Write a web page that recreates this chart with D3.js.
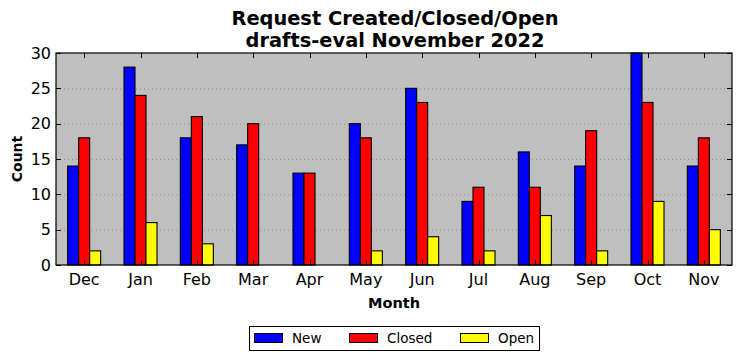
<!DOCTYPE html>
<html><head><meta charset="utf-8">
<script src="https://cdn.jsdelivr.net/npm/d3@7"></script>
<style>body{margin:0;background:#fff}svg{display:block}text{font-family:"DejaVu Sans",sans-serif}</style>
</head><body>
<script>
const months = ["Dec","Jan","Feb","Mar","Apr","May","Jun","Jul","Aug","Sep","Oct","Nov"];
const newVals = [14,28,18,17,13,20,25,9,16,14,30,14];
const closedVals = [18,24,21,20,13,18,23,11,11,19,23,18];
const openVals = [2,6,3,0,0,2,4,2,7,2,9,5];
const seriesNames = ["New","Closed","Open"];
const seriesColors = ["#0000ff","#ff0000","#ffff00"];
const yTicks = [0,5,10,15,20,25,30];

const W=742,H=361;
const m={l:56,r:732,t:53,b:265};
const svg=d3.select("body").append("svg").attr("width",W).attr("height",H);
const x=d3.scaleBand().domain(months).range([m.l,m.r]);
const y=d3.scaleLinear().domain([0,30]).range([m.b,m.t]);
const data=[newVals,closedVals,openVals];
const gw=x.bandwidth()*0.586, bw=gw/3;

svg.append("rect").attr("x",m.l).attr("y",m.t).attr("width",m.r-m.l).attr("height",m.b-m.t).attr("fill","#bfbfbf");
// grid
svg.append("g").selectAll("line").data(yTicks.slice(1,-1)).join("line")
  .attr("x1",m.l).attr("x2",m.r).attr("y1",d=>y(d)+0.5).attr("y2",d=>y(d)+0.5)
  .attr("stroke","#8c8c8c").attr("stroke-width",1).attr("stroke-dasharray","1,3");
// bars
data.forEach((vals,si)=>{
  svg.append("g").selectAll("rect").data(vals).join("rect")
    .attr("x",(d,i)=>x(months[i])+x.bandwidth()/2-gw/2+si*bw)
    .attr("y",d=>y(d)).attr("width",bw).attr("height",d=>m.b-y(d))
    .attr("fill",seriesColors[si]).attr("stroke","#000").attr("stroke-width",1.1);
});
// ticks
const tk=svg.append("g").attr("stroke","#000").attr("stroke-width",1);
months.forEach(mo=>{const cx=Math.round(x(mo)+x.bandwidth()/2)+0.5;
  tk.append("line").attr("x1",cx).attr("x2",cx).attr("y1",m.t).attr("y2",m.t+5);
  tk.append("line").attr("x1",cx).attr("x2",cx).attr("y1",m.b).attr("y2",m.b-5);});
yTicks.forEach(t=>{const yy=Math.round(y(t))+0.5;
  tk.append("line").attr("x1",m.l).attr("x2",m.l+5).attr("y1",yy).attr("y2",yy);
  tk.append("line").attr("x1",m.r).attr("x2",m.r-5).attr("y1",yy).attr("y2",yy);});
// frame
svg.append("rect").attr("x",m.l).attr("y",m.t).attr("width",m.r-m.l).attr("height",m.b-m.t).attr("fill","none").attr("stroke","#000").attr("stroke-width",1.2);
// axis labels
svg.append("g").selectAll("text").data(yTicks).join("text")
  .attr("x",m.l-5).attr("y",d=>y(d)).attr("dy","0.36em").attr("text-anchor","end").attr("font-size",16).text(d=>d);
svg.append("g").selectAll("text").data(months).join("text")
  .attr("x",d=>x(d)+x.bandwidth()/2).attr("y",285).attr("text-anchor","middle").attr("font-size",16).text(d=>d);
svg.append("text").attr("x",394).attr("y",308).attr("text-anchor","middle").attr("font-size",14.5).attr("font-weight","bold").text("Month");
svg.append("text").attr("transform","translate(22,159) rotate(-90)").attr("text-anchor","middle").attr("font-size",14).attr("font-weight","bold").text("Count");
svg.append("text").attr("x",395).attr("y",25).attr("text-anchor","middle").attr("font-size",19.4).attr("font-weight","bold").text("Request Created/Closed/Open");
svg.append("text").attr("x",395).attr("y",47).attr("text-anchor","middle").attr("font-size",19.4).attr("font-weight","bold").text("drafts-eval November 2022");
// legend
svg.append("rect").attr("x",249.5).attr("y",326.5).attr("width",290).attr("height",24).attr("fill","#fff").attr("stroke","#000").attr("stroke-width",1);
const lx=[254,349,460];
seriesNames.forEach((n,i)=>{
  svg.append("rect").attr("x",lx[i]+0.5).attr("y",333.5).attr("width",28).attr("height",9).attr("fill",seriesColors[i]).attr("stroke","#000");
  svg.append("text").attr("x",lx[i]+38).attr("y",343).attr("font-size",13.5).text(n);
});
</script>
</body></html>
